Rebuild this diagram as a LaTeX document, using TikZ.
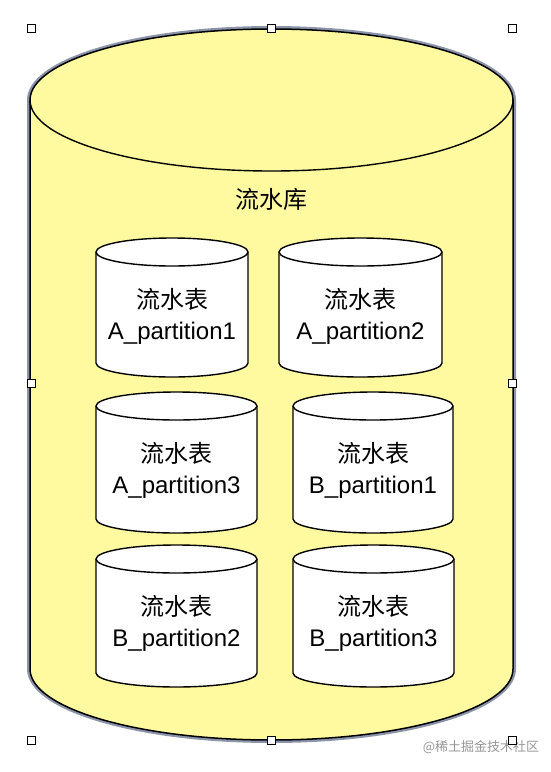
\documentclass[tikz,border=0pt]{standalone}
\usepackage{fontspec}
\setmainfont{Liberation Sans}
\newfontfamily\cjk{Noto Sans CJK SC}
\definecolor{dbyellow}{RGB}{255,249,160}
\definecolor{haloblue}{RGB}{140,148,170}
\definecolor{markgray}{RGB}{150,150,150}
\tikzset{
  dbbody/.style={fill=dbyellow, draw=black, line width=1.5pt},
  dbhalo/.style={draw=haloblue, line width=4pt},
  tblbody/.style={fill=white, draw=black, line width=1.4pt},
  tblrim/.style={draw=black, line width=1.4pt},
  tbltext/.style={align=center, inner sep=0pt, font=\fontsize{24}{31}\selectfont},
  handle/.style={draw=black, fill=white, line width=1pt, minimum size=8pt, inner sep=0pt},
}

\begin{document}
\begin{tikzpicture}[x=1pt,y=1pt]
		\useasboundingbox (0,0) rectangle (550,-772);
		% outer database cylinder
		\draw [dbhalo] (29,-100) -- (29,-669) arc (180:360:242.5pt and 72pt) -- (514,-100) arc (0:180:242.5pt and 72pt) -- cycle;
		\draw [dbbody] (30,-100) -- (30,-669) arc (180:360:241.5pt and 71pt) -- (513,-100) arc (0:180:241.5pt and 71pt) -- cycle;
		\draw [tblrim] (30,-100) arc (180:360:241.5pt and 71pt);
		\node [font=\cjk\fontsize{24}{24}\selectfont, inner sep=0pt] (dbname) at (271.5,-199) {流水库};
		% table cylinders, row 1
		\draw [tblbody] (96,-252) -- (96,-363) arc (180:360:76pt and 14pt) -- (248,-252) arc (0:180:76pt and 14pt) -- cycle;
		\draw [tblrim] (96,-252) arc (180:360:76pt and 14pt);
		\node [tbltext] (tA1) at (172,-316) {{\cjk 流水表}\\A\_partition1};
		\draw [tblbody] (279,-252) -- (279,-363) arc (180:360:81.5pt and 14pt) -- (442,-252) arc (0:180:81.5pt and 14pt) -- cycle;
		\draw [tblrim] (279,-252) arc (180:360:81.5pt and 14pt);
		\node [tbltext] (tA2) at (360.5,-316) {{\cjk 流水表}\\A\_partition2};
		% row 2
		\draw [tblbody] (96,-406) -- (96,-519) arc (180:360:80.5pt and 14pt) -- (257,-406) arc (0:180:80.5pt and 14pt) -- cycle;
		\draw [tblrim] (96,-406) arc (180:360:80.5pt and 14pt);
		\node [tbltext] (tA3) at (176.5,-470) {{\cjk 流水表}\\A\_partition3};
		\draw [tblbody] (293,-406) -- (293,-519) arc (180:360:80pt and 14pt) -- (453,-406) arc (0:180:80pt and 14pt) -- cycle;
		\draw [tblrim] (293,-406) arc (180:360:80pt and 14pt);
		\node [tbltext] (tB1) at (373,-470) {{\cjk 流水表}\\B\_partition1};
		% row 3
		\draw [tblbody] (96,-559) -- (96,-673) arc (180:360:80.5pt and 14pt) -- (257,-559) arc (0:180:80.5pt and 14pt) -- cycle;
		\draw [tblrim] (96,-559) arc (180:360:80.5pt and 14pt);
		\node [tbltext] (tB2) at (176.5,-623) {{\cjk 流水表}\\B\_partition2};
		\draw [tblbody] (293,-559) -- (293,-673) arc (180:360:80.5pt and 14pt) -- (454,-559) arc (0:180:80.5pt and 14pt) -- cycle;
		\draw [tblrim] (293,-559) arc (180:360:80.5pt and 14pt);
		\node [tbltext] (tB3) at (373.5,-623) {{\cjk 流水表}\\B\_partition3};
		% watermark
		\node [font=\cjk\fontsize{13}{13}\selectfont, text=markgray, inner sep=0pt] (mark) at (481,-747) {@稀土掘金技术社区};
		% selection handles
		\node [handle] (h1) at (31.5,-28) {};
		\node [handle] (h2) at (271.5,-28) {};
		\node [handle] (h3) at (512.5,-28) {};
		\node [handle] (h4) at (31.5,-383) {};
		\node [handle] (h5) at (512.5,-383) {};
		\node [handle] (h6) at (31.5,-740) {};
		\node [handle] (h7) at (271.5,-740) {};
		\node [handle] (h8) at (512.5,-740) {};
	\end{tikzpicture}
\end{document}
